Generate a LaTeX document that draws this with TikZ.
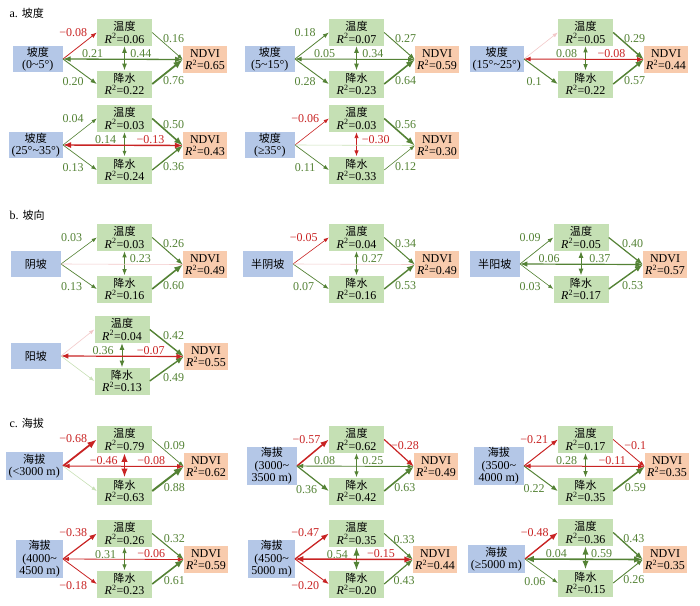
\documentclass[tikz,border=0pt]{standalone}
\usepackage{fontspec}
\setmainfont{Liberation Serif}
\newfontfamily\cjk{Noto Sans CJK SC}[Scale=0.92]
\usetikzlibrary{arrows.meta}
\usepackage{xcolor}
\definecolor{srcblue}{RGB}{180,199,231}
\definecolor{midgreen}{RGB}{197,224,180}
\definecolor{ndviorange}{RGB}{248,203,173}
\definecolor{lgreen}{RGB}{84,130,53}
\definecolor{lred}{RGB}{200,35,35}
\definecolor{palepink}{RGB}{242,200,200}
\definecolor{palegreen}{RGB}{200,224,182}
\newcommand{\rsq}[1]{\textit{R}\textsuperscript{2}=#1}
\newcommand{\tld}{\textasciitilde}

\begin{document}
\begin{tikzpicture}[x=1pt, y=-1pt,
  >={Latex[length=3pt 3.6]},
  every node/.style={font=\fontsize{12}{12.5}\selectfont},
  srcbox/.style={fill=srcblue, anchor=east, minimum width=50pt, minimum height=26pt, inner xsep=3pt, inner ysep=1pt, align=center},
  midbox/.style={fill=midgreen, minimum width=55pt, minimum height=27pt, inner sep=1pt, align=center},
  ndvibox/.style={fill=ndviorange, minimum width=44pt, minimum height=27pt, inner sep=1pt, align=center},
  gedge/.style={->, draw=lgreen},
  redge/.style={->, draw=lred},
  pinkedge/.style={draw=palepink, line width=0.6pt},
  paleedge/.style={draw=palegreen, line width=0.6pt},
  glab/.style={text=lgreen, inner sep=1pt},
  rlab/.style={text=lred, inner sep=1pt}]
\useasboundingbox (0,0) rectangle (700,605);

% a. slope
\node[anchor=west] (tita) at (6,13) {a. {\cjk 坡度}};

\begin{scope}[shift={(0,0)}]
\node[srcbox] (a1s) at (63,59) {{\cjk 坡度}\\(0\tld5°)};
\node[midbox] (a1t) at (124.5,32.5) {{\cjk 温度}\\\rsq{0.06}};
\node[midbox] (a1p) at (124.5,84) {{\cjk 降水}\\\rsq{0.22}};
\node[ndvibox] (a1n) at (205,59.5) {NDVI\\\rsq{0.65}};
\draw[redge, line width=0.8pt] (a1s.east) -- (a1t.west) node[rlab, pos=0.3, above=13pt] {−0.08};
\draw[gedge, line width=0.9pt] (a1s.east) -- (a1p.west) node[glab, pos=0.3, below=10pt] {0.20};
\draw[gedge, line width=0.7pt] (a1t.east) -- (a1n.west) node[glab, pos=0.7, above=7pt] {0.16};
\draw[gedge, line width=1.8pt] (a1p.east) -- (a1n.west) node[glab, pos=0.7, below=8pt] {0.76};
\draw[gedge, <->, line width=1pt] (a1t.south) -- (a1p.north) node[glab, pos=0.3, left=20pt] {0.21};
\draw[gedge, <->, line width=1.3pt] (a1s.east) -- (a1n.west) node[glab, pos=0.65, above] {0.44};
\end{scope}

\begin{scope}[shift={(232,0)}]
\node[srcbox] (a2s) at (63,59) {{\cjk 坡度}\\(5\tld15°)};
\node[midbox] (a2t) at (124.5,32.5) {{\cjk 温度}\\\rsq{0.07}};
\node[midbox] (a2p) at (124.5,84) {{\cjk 降水}\\\rsq{0.23}};
\node[ndvibox] (a2n) at (205,59.5) {NDVI\\\rsq{0.59}};
\draw[gedge, line width=0.8pt] (a2s.east) -- (a2t.west) node[glab, pos=0.3, above=13pt] {0.18};
\draw[gedge, line width=0.9pt] (a2s.east) -- (a2p.west) node[glab, pos=0.3, below=10pt] {0.28};
\draw[gedge, line width=0.9pt] (a2t.east) -- (a2n.west) node[glab, pos=0.7, above=7pt] {0.27};
\draw[gedge, line width=1.6pt] (a2p.east) -- (a2n.west) node[glab, pos=0.7, below=8pt] {0.64};
\draw[gedge, <->, line width=1pt] (a2t.south) -- (a2p.north) node[glab, pos=0.3, left=20pt] {0.05};
\draw[gedge, <->, line width=1pt] (a2s.east) -- (a2n.west) node[glab, pos=0.65, above] {0.34};
\end{scope}

\begin{scope}[shift={(461,0)}]
\node[srcbox] (a3s) at (63,59) {{\cjk 坡度}\\(15°\tld25°)};
\node[midbox] (a3t) at (124.5,32.5) {{\cjk 温度}\\\rsq{0.05}};
\node[midbox] (a3p) at (124.5,84) {{\cjk 降水}\\\rsq{0.22}};
\node[ndvibox] (a3n) at (205,59.5) {NDVI\\\rsq{0.44}};
\draw[pinkedge, ->] (a3s.east) -- (a3t.west);
\draw[gedge, line width=1pt] (a3s.east) -- (a3p.west) node[glab, pos=0.3, below=10pt] {0.1};
\draw[gedge, line width=1.4pt] (a3t.east) -- (a3n.west) node[glab, pos=0.7, above=7pt] {0.29};
\draw[gedge, line width=1.5pt] (a3p.east) -- (a3n.west) node[glab, pos=0.7, below=8pt] {0.57};
\draw[gedge, <->, line width=0.9pt] (a3t.south) -- (a3p.north) node[glab, pos=0.3, left=7pt] {0.08};
\draw[redge, <->, line width=1pt] (a3s.east) -- (a3n.west) node[rlab, pos=0.73, above] {−0.08};
\end{scope}

\begin{scope}[shift={(0,86)}]
\node[srcbox] (a4s) at (63,59) {{\cjk 坡度}\\(25°\tld35°)};
\node[midbox] (a4t) at (124.5,32.5) {{\cjk 温度}\\\rsq{0.03}};
\node[midbox] (a4p) at (124.5,84) {{\cjk 降水}\\\rsq{0.24}};
\node[ndvibox] (a4n) at (205,59.5) {NDVI\\\rsq{0.43}};
\draw[gedge, line width=0.6pt] (a4s.east) -- (a4t.west) node[glab, pos=0.3, above=13pt] {0.04};
\draw[gedge, line width=0.7pt] (a4s.east) -- (a4p.west) node[glab, pos=0.3, below=10pt] {0.13};
\draw[gedge, line width=1.6pt] (a4t.east) -- (a4n.west) node[glab, pos=0.7, above=7pt] {0.50};
\draw[gedge, line width=1.3pt] (a4p.east) -- (a4n.west) node[glab, pos=0.7, below=8pt] {0.36};
\draw[gedge, <->, line width=0.7pt] (a4t.south) -- (a4p.north) node[glab, pos=0.3, left=7pt] {0.14};
\draw[redge, <->, line width=1.4pt] (a4s.east) -- (a4n.west) node[rlab, pos=0.73, above] {−0.13};
\end{scope}

\begin{scope}[shift={(232,86)}]
\node[srcbox] (a5s) at (63,59) {{\cjk 坡度}\\(≥35°)};
\node[midbox] (a5t) at (124.5,32.5) {{\cjk 温度}\\\rsq{0.03}};
\node[midbox] (a5p) at (124.5,84) {{\cjk 降水}\\\rsq{0.33}};
\node[ndvibox] (a5n) at (205,59.5) {NDVI\\\rsq{0.30}};
\draw[redge, line width=0.6pt] (a5s.east) -- (a5t.west) node[rlab, pos=0.3, above=13pt] {−0.06};
\draw[gedge, line width=0.7pt] (a5s.east) -- (a5p.west) node[glab, pos=0.3, below=10pt] {0.11};
\draw[gedge, line width=1.6pt] (a5t.east) -- (a5n.west) node[glab, pos=0.7, above=7pt] {0.56};
\draw[gedge, line width=0.6pt] (a5p.east) -- (a5n.west) node[glab, pos=0.7, below=8pt] {0.12};
\draw[redge, <->, line width=0.8pt] (a5t.south) -- (a5p.north) node[rlab, pos=0.3, right=4pt] {−0.30};
\draw[paleedge] (a5s.east) -- (a5n.west);
\end{scope}

% b. aspect
\node[anchor=west] (titb) at (6,215) {b. {\cjk 坡向}};

\begin{scope}[shift={(0,205)}]
\node[srcbox] (b1s) at (61,59) {{\cjk 阴坡}};
\node[midbox] (b1t) at (124.5,32.5) {{\cjk 温度}\\\rsq{0.03}};
\node[midbox] (b1p) at (124.5,84) {{\cjk 降水}\\\rsq{0.16}};
\node[ndvibox] (b1n) at (205,59.5) {NDVI\\\rsq{0.49}};
\draw[gedge, line width=0.6pt] (b1s.east) -- (b1t.west) node[glab, pos=0.3, above=13pt] {0.03};
\draw[gedge, line width=0.7pt] (b1s.east) -- (b1p.west) node[glab, pos=0.3, below=10pt] {0.13};
\draw[gedge, line width=1pt] (b1t.east) -- (b1n.west) node[glab, pos=0.7, above=7pt] {0.26};
\draw[gedge, line width=1.6pt] (b1p.east) -- (b1n.west) node[glab, pos=0.7, below=8pt] {0.60};
\draw[gedge, <->, line width=0.9pt] (b1t.south) -- (b1p.north) node[glab, pos=0.3, right=4pt] {0.23};
\draw[pinkedge] (b1s.east) -- (b1n.west);
\end{scope}

\begin{scope}[shift={(232,205)}]
\node[srcbox] (b2s) at (61,59) {{\cjk 半阴坡}};
\node[midbox] (b2t) at (124.5,32.5) {{\cjk 温度}\\\rsq{0.04}};
\node[midbox] (b2p) at (124.5,84) {{\cjk 降水}\\\rsq{0.16}};
\node[ndvibox] (b2n) at (205,59.5) {NDVI\\\rsq{0.49}};
\draw[redge, line width=0.6pt] (b2s.east) -- (b2t.west) node[rlab, pos=0.3, above=13pt] {−0.05};
\draw[gedge, line width=0.7pt] (b2s.east) -- (b2p.west) node[glab, pos=0.3, below=10pt] {0.07};
\draw[gedge, line width=1pt] (b2t.east) -- (b2n.west) node[glab, pos=0.7, above=7pt] {0.34};
\draw[gedge, line width=1.4pt] (b2p.east) -- (b2n.west) node[glab, pos=0.7, below=8pt] {0.53};
\draw[gedge, <->, line width=0.8pt] (b2t.south) -- (b2p.north) node[glab, pos=0.3, right=4pt] {0.27};
\draw[pinkedge] (b2s.east) -- (b2n.west);
\end{scope}

\begin{scope}[shift={(461,205)}]
\node[srcbox] (b3s) at (59,59) {{\cjk 半阳坡}};
\node[midbox] (b3t) at (120,32.5) {{\cjk 温度}\\\rsq{0.05}};
\node[midbox] (b3p) at (120,84) {{\cjk 降水}\\\rsq{0.17}};
\node[ndvibox] (b3n) at (204,59.5) {NDVI\\\rsq{0.57}};
\draw[gedge, line width=0.7pt] (b3s.east) -- (b3t.west) node[glab, pos=0.3, above=13pt] {0.09};
\draw[gedge, line width=0.6pt] (b3s.east) -- (b3p.west) node[glab, pos=0.3, below=10pt] {0.03};
\draw[gedge, line width=1.2pt] (b3t.east) -- (b3n.west) node[glab, pos=0.7, above=7pt] {0.40};
\draw[gedge, line width=1.4pt] (b3p.east) -- (b3n.west) node[glab, pos=0.7, below=8pt] {0.53};
\draw[gedge, <->, line width=1pt] (b3t.south) -- (b3p.north) node[glab, pos=0.3, left=20pt] {0.06};
\draw[gedge, <->, line width=1.2pt] (b3s.east) -- (b3n.west) node[glab, pos=0.65, above] {0.37};
\end{scope}

\begin{scope}[shift={(0,297)}]
\node[srcbox] (b4s) at (61,59) {{\cjk 阳坡}};
\node[midbox] (b4t) at (122,32.5) {{\cjk 温度}\\\rsq{0.04}};
\node[midbox] (b4p) at (122,84) {{\cjk 降水}\\\rsq{0.13}};
\node[ndvibox] (b4n) at (206,59.5) {NDVI\\\rsq{0.55}};
\draw[pinkedge, ->] (b4s.east) -- (b4t.west);
\draw[paleedge, ->] (b4s.east) -- (b4p.west);
\draw[gedge, line width=1.4pt] (b4t.east) -- (b4n.west) node[glab, pos=0.7, above=7pt] {0.42};
\draw[gedge, line width=1.4pt] (b4p.east) -- (b4n.west) node[glab, pos=0.7, below=8pt] {0.49};
\draw[gedge, <->, line width=1pt] (b4t.south) -- (b4p.north) node[glab, pos=0.3, left=7pt] {0.36};
\draw[redge, <->, line width=1.2pt] (b4s.east) -- (b4n.west) node[rlab, pos=0.73, above] {−0.07};
\end{scope}

% c. altitude
\node[anchor=west] (titc) at (6,423) {c. {\cjk 海拔}};

\begin{scope}[shift={(0,407)}]
\node[srcbox, minimum height=28pt] (c1s) at (63,59) {{\cjk 海拔}\\(<3000 m)};
\node[midbox] (c1t) at (124.5,32.5) {{\cjk 温度}\\\rsq{0.79}};
\node[midbox] (c1p) at (124.5,84) {{\cjk 降水}\\\rsq{0.63}};
\node[ndvibox] (c1n) at (206,59.5) {NDVI\\\rsq{0.62}};
\draw[redge, line width=1.8pt] (c1s.east) -- (c1t.west) node[rlab, pos=0.3, above=13pt] {−0.68};
\draw[paleedge, ->] (c1s.east) -- (c1p.west);
\draw[gedge, line width=0.7pt] (c1t.east) -- (c1n.west) node[glab, pos=0.7, above=7pt] {0.09};
\draw[gedge, line width=2pt] (c1p.east) -- (c1n.west) node[glab, pos=0.7, below=8pt] {0.88};
\draw[redge, <->, line width=1.6pt] (c1t.south) -- (c1p.north) node[rlab, pos=0.3, left=5pt] {−0.46};
\draw[redge, <->, line width=1pt] (c1s.east) -- (c1n.west) node[rlab, pos=0.73, above] {−0.08};
\end{scope}

\begin{scope}[shift={(232,407)}]
\node[srcbox] (c2s) at (65,59) {{\cjk 海拔}\\(3000\tld\\3500 m)};
\node[midbox] (c2t) at (124.5,32.5) {{\cjk 温度}\\\rsq{0.62}};
\node[midbox] (c2p) at (124.5,84) {{\cjk 降水}\\\rsq{0.42}};
\node[ndvibox] (c2n) at (204,59.5) {NDVI\\\rsq{0.49}};
\draw[redge, line width=1.5pt] (c2s.east) -- (c2t.west) node[rlab, pos=0.3, above=13pt] {−0.57};
\draw[gedge, line width=1.2pt] (c2s.east) -- (c2p.west) node[glab, pos=0.3, below=10pt] {0.36};
\draw[redge, line width=1.2pt] (c2t.east) -- (c2n.west) node[rlab, pos=0.7, above=7pt] {−0.28};
\draw[gedge, line width=1.6pt] (c2p.east) -- (c2n.west) node[glab, pos=0.7, below=8pt] {0.63};
\draw[gedge, <->, line width=0.8pt] (c2t.south) -- (c2p.north) node[glab, pos=0.3, left=20pt] {0.08};
\draw[gedge, <->, line width=0.9pt] (c2s.east) -- (c2n.west) node[glab, pos=0.65, above] {0.25};
\end{scope}

\begin{scope}[shift={(461,407)}]
\node[srcbox] (c3s) at (63,59) {{\cjk 海拔}\\(3500\tld\\4000 m)};
\node[midbox] (c3t) at (124.5,32.5) {{\cjk 温度}\\\rsq{0.17}};
\node[midbox] (c3p) at (124.5,84) {{\cjk 降水}\\\rsq{0.35}};
\node[ndvibox] (c3n) at (206,59.5) {NDVI\\\rsq{0.35}};
\draw[redge, line width=1pt] (c3s.east) -- (c3t.west) node[rlab, pos=0.3, above=13pt] {−0.21};
\draw[gedge, line width=1pt] (c3s.east) -- (c3p.west) node[glab, pos=0.3, below=10pt] {0.22};
\draw[redge, line width=0.8pt] (c3t.east) -- (c3n.west) node[rlab, pos=0.7, above=7pt] {−0.1};
\draw[gedge, line width=1.6pt] (c3p.east) -- (c3n.west) node[glab, pos=0.7, below=8pt] {0.59};
\draw[gedge, <->, line width=0.9pt] (c3t.south) -- (c3p.north) node[glab, pos=0.3, left=7pt] {0.28};
\draw[redge, <->, line width=1pt] (c3s.east) -- (c3n.west) node[rlab, pos=0.73, above] {−0.11};
\end{scope}

\begin{scope}[shift={(0,500)}]
\node[srcbox, minimum width=45pt] (c4s) at (63,59) {{\cjk 海拔}\\(4000\tld\\4500 m)};
\node[midbox] (c4t) at (124.5,33.5) {{\cjk 温度}\\\rsq{0.26}};
\node[midbox] (c4p) at (124.5,84) {{\cjk 降水}\\\rsq{0.23}};
\node[ndvibox] (c4n) at (206,59.5) {NDVI\\\rsq{0.59}};
\draw[redge, line width=1.2pt] (c4s.east) -- (c4t.west) node[rlab, pos=0.3, above=13pt] {−0.38};
\draw[redge, line width=0.8pt] (c4s.east) -- (c4p.west) node[rlab, pos=0.3, below=14pt] {−0.18};
\draw[gedge, line width=1.1pt] (c4t.east) -- (c4n.west) node[glab, pos=0.7, above=7pt] {0.32};
\draw[gedge, line width=1.6pt] (c4p.east) -- (c4n.west) node[glab, pos=0.7, below=8pt] {0.61};
\draw[gedge, <->, line width=0.8pt] (c4t.south) -- (c4p.north) node[glab, pos=0.3, left=7pt] {0.31};
\draw[redge, <->, line width=0.8pt] (c4s.east) -- (c4n.west) node[rlab, pos=0.73, above] {−0.06};
\end{scope}

\begin{scope}[shift={(232,500)}]
\node[srcbox, minimum width=45pt] (c5s) at (63,59) {{\cjk 海拔}\\(4500\tld\\5000 m)};
\node[midbox] (c5t) at (124.5,33.5) {{\cjk 温度}\\\rsq{0.35}};
\node[midbox] (c5p) at (124.5,84) {{\cjk 降水}\\\rsq{0.20}};
\node[ndvibox] (c5n) at (203,59.5) {NDVI\\\rsq{0.44}};
\draw[redge, line width=1.3pt] (c5s.east) -- (c5t.west) node[rlab, pos=0.3, above=13pt] {−0.47};
\draw[redge, line width=0.9pt] (c5s.east) -- (c5p.west) node[rlab, pos=0.3, below=14pt] {−0.20};
\draw[gedge, line width=1pt] (c5t.east) -- (c5n.west) node[glab, pos=0.7, above=7pt] {0.33};
\draw[gedge, line width=1.2pt] (c5p.east) -- (c5n.west) node[glab, pos=0.7, below=8pt] {0.43};
\draw[gedge, <->, line width=1.5pt] (c5t.south) -- (c5p.north) node[glab, pos=0.3, left=7pt] {0.54};
\draw[redge, <->, line width=1.5pt] (c5s.east) -- (c5n.west) node[rlab, pos=0.73, above] {−0.15};
\end{scope}

\begin{scope}[shift={(461,500)}]
\node[srcbox, minimum height=28pt] (c6s) at (64,59) {{\cjk 海拔}\\(≥5000 m)};
\node[midbox] (c6t) at (124.5,32.5) {{\cjk 温度}\\\rsq{0.36}};
\node[midbox] (c6p) at (124.5,83) {{\cjk 降水}\\\rsq{0.15}};
\node[ndvibox] (c6n) at (204,59.5) {NDVI\\\rsq{0.35}};
\draw[redge, line width=1.4pt] (c6s.east) -- (c6t.west) node[rlab, pos=0.3, above=13pt] {−0.48};
\draw[gedge, line width=0.7pt] (c6s.east) -- (c6p.west) node[glab, pos=0.3, below=10pt] {0.06};
\draw[gedge, line width=1.3pt] (c6t.east) -- (c6n.west) node[glab, pos=0.7, above=7pt] {0.43};
\draw[gedge, line width=0.9pt] (c6p.east) -- (c6n.west) node[glab, pos=0.7, below=8pt] {0.26};
\draw[gedge, <->, line width=1.5pt] (c6t.south) -- (c6p.north) node[glab, pos=0.3, left=17pt] {0.04};
\draw[gedge, <->, line width=1.6pt] (c6s.east) -- (c6n.west) node[glab, pos=0.65, above] {0.59};
\end{scope}
\end{tikzpicture}
\end{document}
